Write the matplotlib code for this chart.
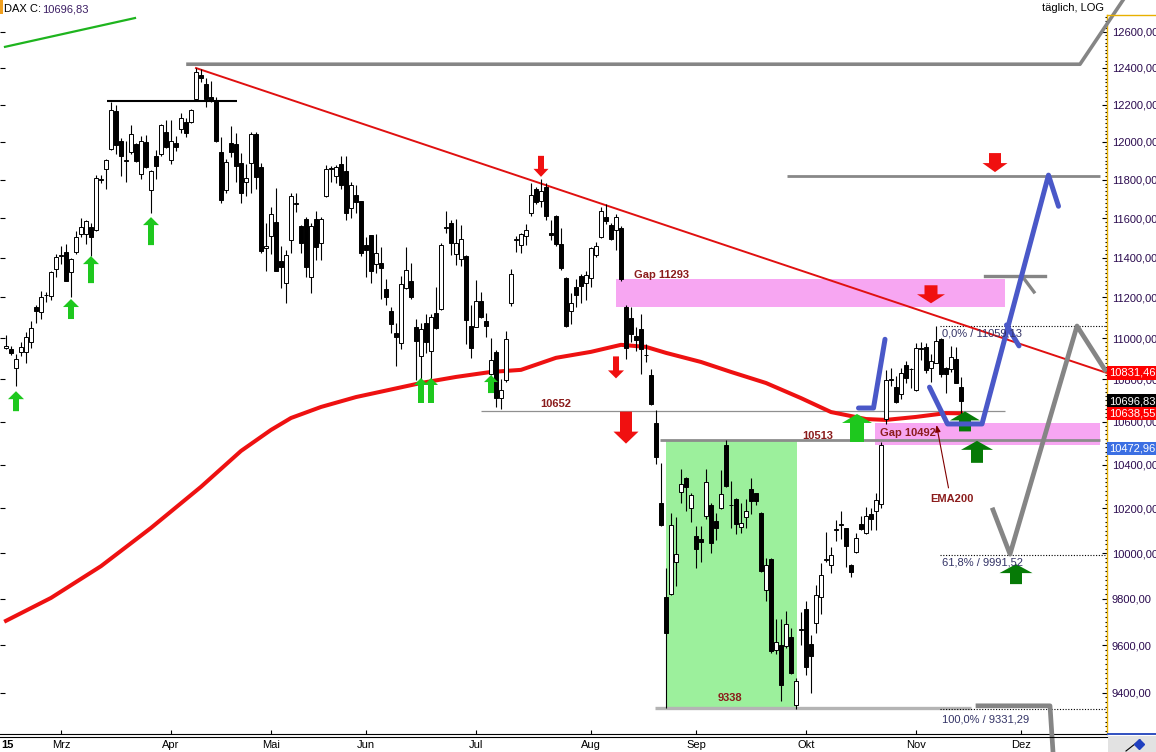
import matplotlib
matplotlib.use("Agg")
import matplotlib.pyplot as plt
from matplotlib.lines import Line2D
from matplotlib.patches import Rectangle
from matplotlib.ticker import FixedLocator, FuncFormatter, NullFormatter

plt.rcParams["font.family"] = ["Liberation Sans", "DejaVu Sans"]
plt.rcParams["font.size"] = 8

W, H = 1156, 752

# DAX daily candles, index 0 = 13.02.2015 ... 191 = 13.11.2015 (trading days)
opens = [
    10951, 10946, 10854, 10934, 10934, 10983, 11152, 11129, 11210, 11209,
    11340, 11410, 11426, 11326, 11429, 11518, 11518, 11557, 11540, 11800,
    11854, 11961, 12165, 12004, 11900, 11947, 11988, 11830, 11997, 11746,
    11924, 11933, 12053, 11903, 11995, 12066, 12107, 12104, 12229, 12360,
    12311, 12240, 12224, 11944, 11746, 11995, 11988, 11886, 11789, 11886,
    12041, 11865, 11446, 11511, 11579, 11382, 11271, 11489, 11676, 11560,
    11596, 11304, 11594, 11472, 11715, 11857, 11821, 11882, 11845, 11651,
    11720, 11689, 11463, 11514, 11367, 11373, 11240, 11133, 11026, 10975,
    11249, 11284, 11053, 10915, 11072, 10939, 11121, 11141, 11550, 11574,
    11416, 11391, 11407, 11059, 11056, 11182, 11083, 10826, 10931, 10713,
    10797, 11174, 11490, 11463, 11511, 11629, 11751, 11689, 11760, 11526,
    11612, 11467, 11295, 11134, 11254, 11307, 11274, 11299, 11412, 11503,
    11606, 11565, 11540, 11550, 11154, 11096, 11010, 11046, 10916, 10821,
    10594, 10226, 9805, 9820, 9961, 10276, 10338, 10203, 10074, 10062,
    10165, 10214, 10145, 10203, 10490, 10213, 10241, 10115, 10160, 10288,
    10269, 10180, 9839, 9973, 9580, 9602, 9595, 9635, 9347, 9666,
    9754, 9604, 9694, 9806, 9970, 9947, 10101, 10124, 10110, 9947,
    10006, 10130, 10088, 10175, 10190, 10220, 10611, 10795, 10762, 10730,
    10870, 10848, 10749, 10949, 10956, 10854, 10881, 10994, 10854, 10849,
    10897, 10762,
]
highs = [
    11015, 10963, 10923, 10981, 11030, 11083, 11162, 11232, 11227, 11332,
    11418, 11458, 11468, 11395, 11535, 11601, 11591, 11577, 11824, 11824,
    11908, 12215, 12197, 12021, 12004, 12089, 11995, 12032, 12036, 11850,
    11956, 12095, 12116, 12116, 12030, 12152, 12125, 12174, 12399, 12394,
    12344, 12327, 12240, 12023, 11907, 12084, 12045, 11938, 11881, 12050,
    12050, 11886, 11574, 11656, 11755, 11458, 11438, 11730, 11730, 11565,
    11605, 11574, 11639, 11605, 11877, 11871, 11877, 11924, 11924, 11789,
    11772, 11690, 11506, 11514, 11519, 11451, 11290, 11154, 11075, 11307,
    11451, 11373, 11091, 11075, 11118, 11118, 11254, 11472, 11637, 11591,
    11596, 11565, 11412, 11162, 11287, 11229, 11121, 11002, 10942, 10800,
    11035, 11340, 11509, 11523, 11570, 11784, 11763, 11802, 11784, 11591,
    11617, 11549, 11304, 11220, 11290, 11317, 11332, 11455, 11480, 11659,
    11673, 11574, 11623, 11560, 11160, 11154, 11054, 11116, 10973, 10850,
    10656, 10405, 9934, 10180, 10162, 10379, 10344, 10272, 10119, 10119,
    10379, 10226, 10180, 10375, 10513, 10326, 10246, 10226, 10241, 10338,
    10272, 10182, 9976, 9976, 9711, 9711, 9747, 9674, 9460, 9740,
    9791, 9641, 9859, 9955, 10095, 10025, 10148, 10190, 10112, 9950,
    10091, 10166, 10205, 10201, 10272, 10506, 10846, 10854, 10817, 10854,
    10889, 10854, 10978, 10983, 10978, 10922, 11059, 10999, 10862, 10962,
    10958, 10810,
]
lows = [
    10946, 10918, 10768, 10913, 10879, 10952, 11075, 11093, 11179, 11187,
    11304, 11367, 11284, 11201, 11418, 11504, 11468, 11409, 11537, 11781,
    11750, 11956, 11933, 11819, 11789, 11933, 11891, 11802, 11859, 11625,
    11803, 11924, 11965, 11882, 11952, 12045, 12023, 12098, 12224, 12323,
    12188, 12215, 12000, 11680, 11732, 11920, 11789, 11680, 11716, 11732,
    11750, 11424, 11334, 11416, 11330, 11245, 11171, 11421, 11634, 11421,
    11304, 11223, 11387, 11387, 11711, 11786, 11784, 11750, 11591, 11600,
    11625, 11407, 11304, 11274, 11321, 11190, 11162, 11026, 10866, 10947,
    11240, 11190, 10797, 10797, 10926, 10789, 11045, 11137, 11523, 11412,
    11362, 11357, 10971, 10902, 11052, 11100, 11007, 10821, 10670, 10658,
    10790, 11159, 11429, 11421, 11463, 11612, 11673, 11659, 11591, 11489,
    11458, 11337, 11056, 11069, 11154, 11171, 11187, 11254, 11404, 11498,
    11570, 11490, 11438, 11284, 10899, 10981, 10939, 10825, 10882, 10680,
    10403, 10120, 9338, 9815, 9857, 10226, 10190, 10139, 9934, 9961,
    10150, 9998, 10058, 10195, 10295, 10112, 10085, 10089, 10112, 10175,
    10215, 9916, 9791, 9566, 9563, 9365, 9588, 9478, 9331, 9602,
    9474, 9400, 9651, 9734, 9962, 9913, 10055, 10061, 9939, 9893,
    9999, 10103, 10085, 10103, 10103, 10201, 10589, 10768, 10690, 10705,
    10784, 10757, 10744, 10894, 10832, 10789, 10878, 10810, 10733, 10837,
    10781, 10616,
]
closes = [
    10963, 10927, 10897, 10958, 11006, 11051, 11134, 11204, 11214, 11326,
    11401, 11414, 11284, 11391, 11503, 11554, 11586, 11506, 11807, 11804,
    11903, 12170, 11983, 11926, 11905, 12041, 11899, 12005, 11865, 11845,
    11873, 12089, 11970, 12004, 11974, 12125, 12045, 12170, 12379, 12342,
    12229, 12224, 12005, 11694, 11891, 11944, 11873, 11729, 11810, 12041,
    11815, 11434, 11458, 11620, 11334, 11354, 11412, 11715, 11680, 11475,
    11354, 11560, 11452, 11596, 11854, 11861, 11868, 11772, 11629, 11772,
    11682, 11421, 11438, 11334, 11421, 11346, 11200, 11069, 11007, 11266,
    11337, 11200, 10988, 11043, 10983, 11101, 11048, 11463, 11554, 11475,
    11472, 11492, 11088, 10951, 11182, 11104, 11060, 10894, 10713, 10749,
    10996, 11316, 11494, 11518, 11540, 11720, 11682, 11742, 11612, 11514,
    11468, 11346, 11059, 11174, 11212, 11257, 11312, 11446, 11458, 11637,
    11586, 11492, 11606, 11293, 10952, 11021, 10989, 10947, 10920, 10683,
    10435, 10127, 9650, 10127, 9994, 10313, 10298, 10259, 10016, 10051,
    10318, 10043, 10112, 10267, 10303, 10217, 10130, 10134, 10187, 10234,
    10234, 9919, 9946, 9573, 9612, 9431, 9689, 9483, 9449, 9670,
    9509, 9554, 9815, 9903, 9974, 9991, 10105, 10128, 10031, 9917,
    10066, 10106, 10166, 10151, 10238, 10491, 10797, 10800, 10694, 10832,
    10805, 10852, 10951, 10953, 10846, 10889, 10988, 10826, 10826, 10907,
    10784, 10697,
]

month_pos = [11, 33, 53, 72, 94, 117, 138, 160, 182, 203]
month_names = ["Mrz", "Apr", "Mai", "Jun", "Jul", "Aug", "Sep", "Okt", "Nov", "Dez"]

# EMA200
ema_idx = [0, 9, 19, 29, 39, 47, 53, 57, 63, 70, 83, 90, 97, 103, 110,
           117, 123, 128, 132, 139, 145, 152, 159, 165, 172, 176, 182, 188, 191]
ema_val = [9704, 9803, 9942, 10112, 10298, 10463, 10561, 10617, 10669, 10716,
           10783, 10812, 10836, 10846, 10904, 10933, 10967, 10957, 10928, 10884,
           10836, 10783, 10711, 10645, 10612, 10608, 10622, 10640, 10639]

price_tags = [10831.46, 10696.83, 10638.55, 10472.96]
tag_colors = ["#ff0000", "#000000", "#ff0000", "#3b6fe3"]

fib_levels = [11059.13, 9991.52, 9331.29]
fib_names = ["0,0%", "61,8%", "100,0%"]

# arrows: candle index, tip price, length, head width, shaft width, head length (px)
green_arrows = [(2, 10744, 20, 16, 6, 8), (13, 11192, 20, 16, 6, 8),
                (17, 11407, 27, 16, 6, 8), (29, 11606, 28, 16, 6, 8),
                (83, 10807, 25, 14, 6, 7), (85, 10807, 25, 14, 6, 7),
                (97, 10821, 18, 14, 6, 7), (170.2, 10636, 28, 30, 14, 9)]
dark_green_arrows = [(191.8, 10648, 20, 30, 12, 9), (194.2, 10510, 22, 32, 12, 9),
                     (202, 9951, 20, 33, 12, 9)]
red_arrows = [(107, 11815, 21, 15, 6, 8), (122, 10805, 22, 16, 6, 8),
              (124, 10497, 32, 25, 12, 12), (185, 11171, 18, 28, 13, 9),
              (197.8, 11840, 19, 25, 12, 9)]


def fmt(v):
    return f"{v:.2f}".replace(".", ",")


fig = plt.figure(figsize=(W / 100, H / 100), dpi=100)
ax = fig.add_axes([0, 18 / H, 1107 / W, 719 / H])
ax.set_yscale("log")
ax.set_xlim(-1.2, 220.2)
ax.set_ylim(9229, 12694)

# zones
ax.add_patch(Rectangle((132, 9338), 26.2, 10513 - 9338, fc="#9cf09c", ec="none", zorder=1))
ax.add_patch(Rectangle((122, 11155), 77.8, 11293 - 11155, fc="#f7a6f2", ec="none", zorder=1))
ax.add_patch(Rectangle((173.8, 10492), 45, 10594 - 10492, fc="#f7a6f2", ec="none", zorder=1))

# horizontal levels
ax.hlines(10652, 95, 199.8, color="#909090", lw=0.9, zorder=1.5)
ax.hlines(10513, 130.8, 218.8, color="#8c8c8c", lw=2, zorder=1.5)
ax.hlines(9338, 129.8, 193, color="#b4b4b4", lw=2.4, zorder=1.5)
ax.hlines(11819, 156.2, 218.8, color="#888888", lw=2, zorder=1.5)
ax.hlines(12219, 20.2, 46.2, color="black", lw=1.5, zorder=1.5)
for lvl in fib_levels:
    ax.hlines(lvl, 186.8, 220.2, color="black", lw=0.8, linestyles=(0, (1, 1.5)), zorder=1.5)

# EMA200 and trendline
ax.plot(ema_idx, ema_val, color="#ee1111", lw=2.9, solid_joinstyle="round", zorder=2)
ax.plot([38, 220.2], [12399, 10831], color="#e01010", lw=1.4, zorder=2.5)
ax.plot([-0.2, 25.8], [12516, 12677], color="#1eb41e", lw=1.6, zorder=2.5)

# candles
x = list(range(len(closes)))
bottoms = [min(o, c) for o, c in zip(opens, closes)]
heights = [max(abs(c - o), 2) for o, c in zip(opens, closes)]
colors = ["white" if c >= o else "black" for o, c in zip(opens, closes)]
ax.vlines(x, lows, highs, color="black", lw=0.8, zorder=3)
ax.bar(x, heights, bottom=bottoms, width=0.62, color=colors, edgecolor="black",
       linewidth=0.7, zorder=4)

# gray projections
gray = "#858585"
ax.plot([36.4, 214.8, 223.4], [12420, 12420, 12778], color=gray, lw=2.6,
        clip_on=False, zorder=5)
ax.plot([195.8, 207.8], [11307, 11307], color=gray, lw=2.4, zorder=5)
ax.plot([203.2, 205.6], [11307, 11227], color=gray, lw=2.4, zorder=5)
ax.plot([197.4, 200.8, 214.2, 219.8], [10193, 9995, 11059, 10846], color=gray,
        lw=3.4, zorder=5, clip_on=False)
ax.plot([194.4, 208.8, 209.4], [9345, 9345, 9156], color=gray, lw=3.4,
        clip_on=False, zorder=5)


def block_arrow(i, tip, up, length, head_w, shaft_w, head_len, color):
    k = 0.72
    style = "simple,head_length=%.2f,head_width=%.2f,tail_width=%.2f" % (
        head_len * k, head_w * k, shaft_w * k)
    ax.annotate("", xy=(i, tip), xytext=(0, (-length if up else length) * k),
                textcoords="offset points",
                arrowprops=dict(arrowstyle=style, mutation_scale=1, fc=color,
                                ec="none", lw=0, shrinkA=0, shrinkB=0),
                zorder=6, annotation_clip=False)


for a in green_arrows:
    block_arrow(a[0], a[1], True, *a[2:], color="#1ec81e")
for a in dark_green_arrows:
    block_arrow(a[0], a[1], True, *a[2:], color="#067a06")
for a in red_arrows:
    block_arrow(a[0], a[1], False, *a[2:], color="#f01010")

# blue scenario path
blue = "#4a58c8"
ax.plot([170.5, 173.5, 175.8], [10664, 10664, 10994], color=blue, lw=3.6,
        solid_capstyle="round", solid_joinstyle="round", zorder=7)
ax.plot([184.7, 188.3, 195.2, 208.5, 210.5], [10763, 10589, 10589, 11824, 11662],
        color=blue, lw=3.6, solid_capstyle="round", solid_joinstyle="round", zorder=7)
ax.plot([200.1, 202.6], [11064, 10962], color=blue, lw=3.6,
        solid_capstyle="round", zorder=7)

# labels in the chart
dred = "#8b1c1c"
ax.text(125.6, 11312, "Gap 11293", color=dred, fontsize=8, fontweight="bold",
        va="center", zorder=8)
ax.text(174.8, 10546, "Gap 10492", color=dred, fontsize=8, fontweight="bold",
        va="center", zorder=8)
ax.text(110, 10683, "10652", color=dred, fontsize=8, fontweight="bold",
        ha="center", va="center", zorder=8)
ax.text(159.2, 10533, "10513", color=dred, fontsize=8, fontweight="bold",
        va="center", zorder=8)
ax.text(144.8, 9378, "9338", color=dred, fontsize=8, fontweight="bold",
        ha="center", va="center", zorder=8)
ax.text(184.8, 10242, "EMA200", color=dred, fontsize=8, fontweight="bold",
        va="center", zorder=8)
ax.annotate("", xy=(186.1, 10584), xytext=(188.5, 10293),
            arrowprops=dict(arrowstyle="-|>,head_length=0.5,head_width=0.2",
                            color="#800000", lw=0.8, shrinkA=0, shrinkB=0), zorder=8)
for lvl, name, ty in zip(fib_levels, fib_names, [11020, 9956, 9287]):
    ax.text(187.2, ty, f"{name} / {fmt(lvl)}", color="#333366", fontsize=8,
            va="center", zorder=8, clip_on=False)

# axes styling
for s in ["top", "left"]:
    ax.spines[s].set_visible(False)
ax.spines["right"].set_color("#e8b000")
ax.spines["right"].set_linewidth(1)
ax.spines["bottom"].set_color("black")
ax.spines["bottom"].set_linewidth(0.8)

ax.yaxis.set_major_locator(FixedLocator(list(range(9400, 12601, 200))))
ax.yaxis.set_major_formatter(FuncFormatter(lambda v, p: fmt(v)))
ax.yaxis.set_minor_locator(FixedLocator(list(range(9240, 12690, 20))))
ax.yaxis.set_minor_formatter(NullFormatter())
ax.tick_params(axis="y", which="both", direction="in", right=True, left=True,
               labelleft=False, labelright=True, width=0.8, color="black")
ax.tick_params(axis="y", which="major", length=3.5, pad=3.5, labelsize=8,
               labelcolor="#2b0b4f")
ax.tick_params(axis="y", which="minor", length=1.6, left=False)

ax.set_xticks(month_pos)
ax.set_xticklabels(month_names)
ax.tick_params(axis="x", direction="in", length=3, width=0.8, pad=4.5, labelsize=8)

for tv, tc in zip(price_tags, tag_colors):
    ax.text(1.0 + 2 / 1107, tv, fmt(tv), transform=ax.get_yaxis_transform(),
            ha="left", va="center", color="white", fontsize=8,
            bbox=dict(boxstyle="square,pad=0.15", fc=tc, ec="none"),
            zorder=10, clip_on=False)


# frame extras in figure pixels
def fx(px):
    return px / W


def fy(py):
    return 1 - py / H


fig.add_artist(Line2D([0, fx(1107)], [fy(737), fy(737)], color="black", lw=0.8))
fig.add_artist(Line2D([fx(1107), 1], [fy(15), fy(15)], color="#e8b000", lw=1))
fig.add_artist(Line2D([fx(1108), 1], [fy(733.5), fy(733.5)], color="#3050c0", lw=1.4))
fig.add_artist(Rectangle((fx(1108), 0), fx(48), fy(736), fc="#e2e2e2", ec="none"))
fig.add_artist(Line2D([fx(1126), fx(1140)], [fy(751), fy(740)], color="black", lw=0.8))
fig.add_artist(Line2D([fx(1139)], [fy(744)], marker="D", ms=5, color="#2040c0"))
fig.add_artist(Rectangle((0, fy(14)), fx(3), 1 - fy(14), fc="#f0a020", ec="none"))

fig.text(fx(4), fy(9), "DAX C:", fontsize=8, color="black", va="center")
fig.text(fx(42), fy(9), "10696,83", fontsize=8, color="#3c1e64", va="center")
fig.text(fx(1104), fy(8), "täglich, LOG", fontsize=8, color="black", ha="right",
         va="center")
fig.text(fx(1), fy(740), "15", fontsize=8, fontweight="bold", ha="left", va="top")

fig.savefig("out.png", dpi=100)
